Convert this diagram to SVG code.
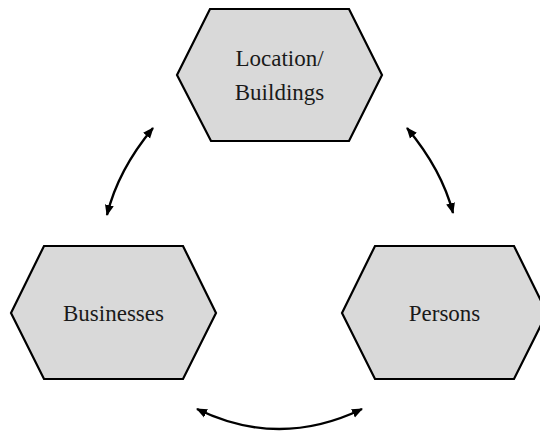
<svg xmlns="http://www.w3.org/2000/svg" width="540" height="434" viewBox="0 0 540 434">
  <style>
    .hex { fill: #d9d9d9; stroke: #000; stroke-width: 2.2; stroke-linejoin: miter; }
    .lbl { font-family: "Liberation Serif", "Times New Roman", serif; font-size: 23px; fill: #1a1a1a; text-anchor: middle; }
    .conn { fill: none; stroke: #000; stroke-width: 2.4; marker-start: url(#ah); marker-end: url(#ah); }
  </style>
  <defs>
    <marker id="ah" markerUnits="userSpaceOnUse" markerWidth="12" markerHeight="10" refX="10" refY="4.5" orient="auto-start-reverse" viewBox="0 0 12 9">
      <path d="M0,0 L11,4.5 L0,9 z" fill="#000"/>
    </marker>
  </defs>
  <rect width="540" height="434" fill="#fff"/>
  <g id="node-location">
    <polygon class="hex" points="210,9 349,9 382,75 349,141 211,141 177,75"/>
    <text class="lbl" x="279.5" y="66">Location/</text>
    <text class="lbl" x="279.5" y="100">Buildings</text>
  </g>
  <g id="node-businesses">
    <polygon class="hex" points="44,246 183,246 216,313 183,379 44,379 11,313"/>
    <text class="lbl" x="113.5" y="321">Businesses</text>
  </g>
  <g id="node-persons">
    <polygon class="hex" points="375,246 514,246 547,313 514,379 375,379 342,313"/>
    <text class="lbl" x="444.5" y="321">Persons</text>
  </g>
  <g id="connectors">
    <path class="conn" d="M153,128 Q118,170 107,215"/>
    <path class="conn" d="M407,128 Q442,170 453,213"/>
    <path class="conn" d="M197,409 Q279,449 362,409"/>
  </g>
</svg>
